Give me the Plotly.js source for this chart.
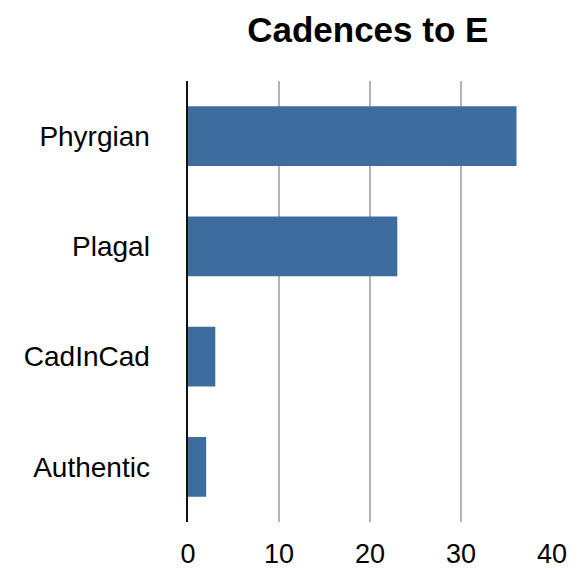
<!DOCTYPE html>
<html>
<head>
<meta charset="utf-8">
<script src="https://cdn.plot.ly/plotly-3.0.1.min.js"></script>
<style>html,body{margin:0;padding:0;background:#fff;}#chart{width:572px;height:572px;}</style>
</head>
<body>
<div id="chart"></div>
<script>
const categories = ["Authentic", "CadInCad", "Plagal", "Phyrgian"];
const counts = [2, 3, 23, 36.1];
const xTicks = [0, 10, 20, 30, 40];

const trace = {
  type: "bar",
  orientation: "h",
  y: categories,
  x: counts,
  marker: {color: "#3d6d9e"},
  hoverinfo: "x+y"
};

const layout = {
  width: 572,
  height: 572,
  margin: {l: 188, r: 20, t: 81, b: 50},
  paper_bgcolor: "#ffffff",
  plot_bgcolor: "#ffffff",
  font: {family: "Liberation Sans, Arial, Helvetica, sans-serif", color: "#000", size: 27},
  title: {
    text: "<b>Cadences to E</b>",
    font: {size: 35, color: "#000"},
    x: 0.643, xanchor: "center",
    y: 0.948, yanchor: "middle"
  },
  bargap: 0.46,
  showlegend: false,
  xaxis: {
    range: [0, 40],
    tickvals: xTicks,
    ticktext: xTicks.map(String),
    showgrid: true,
    gridcolor: "#b4b4b4",
    gridwidth: 2.5,
    zeroline: false,
    showline: false,
    ticks: "",
    ticklabelstandoff: 13,
    tickfont: {size: 27},
    fixedrange: true
  },
  yaxis: {
    showline: true,
    linecolor: "#111",
    linewidth: 2.5,
    ticks: "",
    showgrid: false,
    zeroline: false,
    ticklabelstandoff: 30,
    tickfont: {size: 28},
    fixedrange: true
  }
};

Plotly.newPlot("chart", [trace], layout, {displayModeBar: false, staticPlot: true});
</script>
</body>
</html>
